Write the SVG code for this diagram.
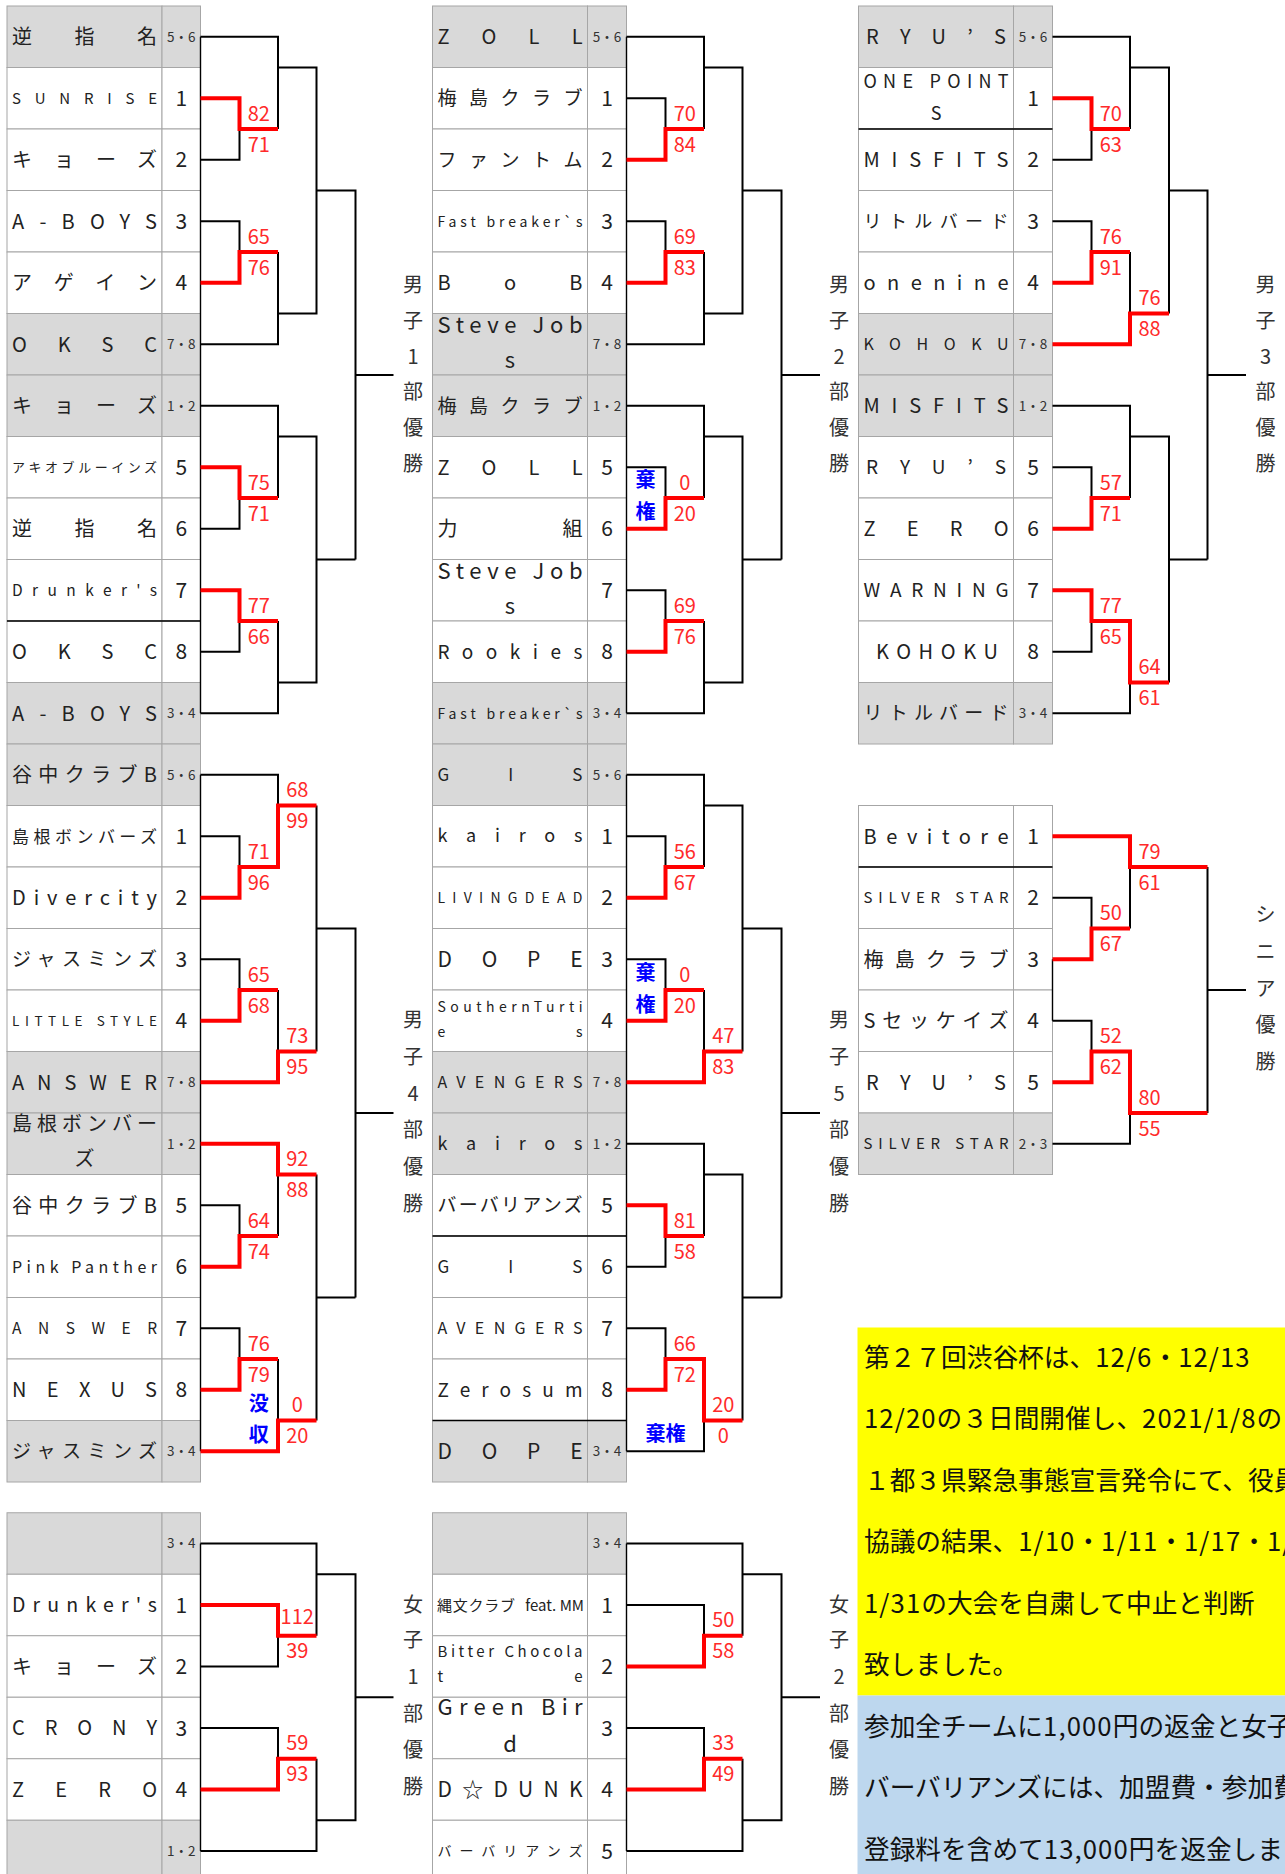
<svg xmlns="http://www.w3.org/2000/svg" width="1285" height="1874" viewBox="0 0 1285 1874">
<style>
text{font-family:"Noto Sans CJK JP","Noto Sans",sans-serif;fill:#222}
.nb{font-size:21px;text-anchor:middle}
.sd{font-size:13.5px;text-anchor:middle;fill:#333}
.sc{font-size:20px;fill:#ff2a2a;text-anchor:middle}
.bl{font-size:20px;fill:#0000ff;font-weight:bold;text-anchor:middle}
.lb{font-size:20px;fill:#333;text-anchor:middle}
.tx{font-size:25.7px;fill:#111}
.h{letter-spacing:1.1px}
.w{fill:#fff;stroke:#a6a6a6;stroke-width:1}
.g{fill:#d9d9d9;stroke:#a6a6a6;stroke-width:1}
.k{fill:none;stroke:#000;stroke-width:2}
.r{fill:none;stroke:#ff0000;stroke-width:4}
.kb{fill:none;stroke:#000;stroke-width:1.4}
.c{text-anchor:middle}
</style>
<rect width="1285" height="1874" fill="#fff"/>

<!-- ===== Column 1 ===== -->
<g id="men1">
<g id="c1r0"><rect class="g" x="7" y="6" width="155" height="61.5"/><rect class="g" x="162" y="6" width="38.5" height="61.5"/><text x="12" y="44.2" font-size="20" textLength="145" lengthAdjust="spacing">逆指名</text><text class="sd" x="181.25" y="41.55">5・6</text></g>
<g id="c1r1"><rect class="w" x="7" y="67.5" width="155" height="61.5"/><rect class="w" x="162" y="67.5" width="38.5" height="61.5"/><text x="12" y="103.8" font-size="15" textLength="145" lengthAdjust="spacing">SUNRISE</text><text class="nb" x="181.25" y="105.75">1</text></g>
<g id="c1r2"><rect class="w" x="7" y="129" width="155" height="61.5"/><rect class="w" x="162" y="129" width="38.5" height="61.5"/><text x="12" y="167.2" font-size="20" textLength="145" lengthAdjust="spacing">キョーズ</text><text class="nb" x="181.25" y="167.25">2</text></g>
<g id="c1r3"><rect class="w" x="7" y="190.5" width="155" height="61.5"/><rect class="w" x="162" y="190.5" width="38.5" height="61.5"/><text x="12" y="228.7" font-size="20" textLength="145" lengthAdjust="spacing">A-BOYS</text><text class="nb" x="181.25" y="228.75">3</text></g>
<g id="c1r4"><rect class="w" x="7" y="252" width="155" height="61.5"/><rect class="w" x="162" y="252" width="38.5" height="61.5"/><text x="12" y="290.2" font-size="20" textLength="145" lengthAdjust="spacing">アゲイン</text><text class="nb" x="181.25" y="290.25">4</text></g>
<g id="c1r5"><rect class="g" x="7" y="313.5" width="155" height="61.5"/><rect class="g" x="162" y="313.5" width="38.5" height="61.5"/><text x="12" y="351.7" font-size="20" textLength="145" lengthAdjust="spacing">OKSC</text><text class="sd" x="181.25" y="349.05">7・8</text></g>
<g id="c1r6"><rect class="g" x="7" y="375" width="155" height="61.5"/><rect class="g" x="162" y="375" width="38.5" height="61.5"/><text x="12" y="413.2" font-size="20" textLength="145" lengthAdjust="spacing">キョーズ</text><text class="sd" x="181.25" y="410.55">1・2</text></g>
<g id="c1r7"><rect class="w" x="7" y="436.5" width="155" height="61.5"/><rect class="w" x="162" y="436.5" width="38.5" height="61.5"/><text x="12" y="472" font-size="13" textLength="145" lengthAdjust="spacing">アキオブルーインズ</text><text class="nb" x="181.25" y="474.75">5</text></g>
<g id="c1r8"><rect class="w" x="7" y="498" width="155" height="61.5"/><rect class="w" x="162" y="498" width="38.5" height="61.5"/><text x="12" y="536.2" font-size="20" textLength="145" lengthAdjust="spacing">逆指名</text><text class="nb" x="181.25" y="536.25">6</text></g>
<g id="c1r9"><rect class="w" x="7" y="559.5" width="155" height="61.5"/><rect class="w" x="162" y="559.5" width="38.5" height="61.5"/><text x="12" y="596" font-size="15.5" textLength="145" lengthAdjust="spacing">Drunker's</text><text class="nb" x="181.25" y="597.75">7</text></g>
<g id="c1r10"><rect class="w" x="7" y="621" width="155" height="61.5"/><rect class="w" x="162" y="621" width="38.5" height="61.5"/><text x="12" y="659.2" font-size="20" textLength="145" lengthAdjust="spacing">OKSC</text><text class="nb" x="181.25" y="659.25">8</text></g>
<g id="c1r11"><rect class="g" x="7" y="682.5" width="155" height="61.5"/><rect class="g" x="162" y="682.5" width="38.5" height="61.5"/><text x="12" y="720.7" font-size="20" textLength="145" lengthAdjust="spacing">A-BOYS</text><text class="sd" x="181.25" y="718.05">3・4</text></g>
</g>

<g id="men4">
<g id="c1r12"><rect class="g" x="7" y="744" width="155" height="61.5"/><rect class="g" x="162" y="744" width="38.5" height="61.5"/><text x="12" y="782.2" font-size="20" textLength="145" lengthAdjust="spacing">谷中クラブB</text><text class="sd" x="181.25" y="779.55">5・6</text></g>
<g id="c1r13"><rect class="w" x="7" y="805.5" width="155" height="61.5"/><rect class="w" x="162" y="805.5" width="38.5" height="61.5"/><text x="12" y="842.5" font-size="17" textLength="145" lengthAdjust="spacing">島根ボンバーズ</text><text class="nb" x="181.25" y="843.75">1</text></g>
<g id="c1r14"><rect class="w" x="7" y="867" width="155" height="61.5"/><rect class="w" x="162" y="867" width="38.5" height="61.5"/><text x="12" y="905.2" font-size="20" textLength="145" lengthAdjust="spacing">Divercity</text><text class="nb" x="181.25" y="905.25">2</text></g>
<g id="c1r15"><rect class="w" x="7" y="928.5" width="155" height="61.5"/><rect class="w" x="162" y="928.5" width="38.5" height="61.5"/><text x="12" y="966.3" font-size="19" textLength="145" lengthAdjust="spacing">ジャスミンズ</text><text class="nb" x="181.25" y="966.75">3</text></g>
<g id="c1r16"><rect class="w" x="7" y="990" width="155" height="61.5"/><rect class="w" x="162" y="990" width="38.5" height="61.5"/><text x="12" y="1025.8" font-size="13.5" textLength="145" lengthAdjust="spacing">LITTLE STYLE</text><text class="nb" x="181.25" y="1028.25">4</text></g>
<g id="c1r17"><rect class="g" x="7" y="1051.5" width="155" height="61.5"/><rect class="g" x="162" y="1051.5" width="38.5" height="61.5"/><text x="12" y="1089.7" font-size="20" textLength="145" lengthAdjust="spacing">ANSWER</text><text class="sd" x="181.25" y="1087.05">7・8</text></g>
<g id="c1r18"><rect class="g" x="7" y="1113" width="155" height="61.5"/><rect class="g" x="162" y="1113" width="38.5" height="61.5"/><text x="12" y="1130.7" font-size="20" textLength="145" lengthAdjust="spacing">島根ボンバー</text><text class="c" x="84.5" y="1165.7" font-size="20">ズ</text><text class="sd" x="181.25" y="1148.55">1・2</text></g>
<g id="c1r19"><rect class="w" x="7" y="1174.5" width="155" height="61.5"/><rect class="w" x="162" y="1174.5" width="38.5" height="61.5"/><text x="12" y="1212.7" font-size="20" textLength="145" lengthAdjust="spacing">谷中クラブB</text><text class="nb" x="181.25" y="1212.75">5</text></g>
<g id="c1r20"><rect class="w" x="7" y="1236" width="155" height="61.5"/><rect class="w" x="162" y="1236" width="38.5" height="61.5"/><text x="12" y="1272.7" font-size="16" textLength="145" lengthAdjust="spacing">Pink Panther</text><text class="nb" x="181.25" y="1274.25">6</text></g>
<g id="c1r21"><rect class="w" x="7" y="1297.5" width="155" height="61.5"/><rect class="w" x="162" y="1297.5" width="38.5" height="61.5"/><text x="12" y="1334" font-size="15.5" textLength="145" lengthAdjust="spacing">ANSWER</text><text class="nb" x="181.25" y="1335.75">7</text></g>
<g id="c1r22"><rect class="w" x="7" y="1359" width="155" height="61.5"/><rect class="w" x="162" y="1359" width="38.5" height="61.5"/><text x="12" y="1397.2" font-size="20" textLength="145" lengthAdjust="spacing">NEXUS</text><text class="nb" x="181.25" y="1397.25">8</text></g>
<g id="c1r23"><rect class="g" x="7" y="1420.5" width="155" height="61.5"/><rect class="g" x="162" y="1420.5" width="38.5" height="61.5"/><text x="12" y="1458.3" font-size="19" textLength="145" lengthAdjust="spacing">ジャスミンズ</text><text class="sd" x="181.25" y="1456.05">3・4</text></g>
</g>

<g id="women1">
<g id="c1b0"><rect class="g" x="7" y="1512.75" width="155" height="61.5"/><rect class="g" x="162" y="1512.75" width="38.5" height="61.5"/><text class="sd" x="181.25" y="1548.3">3・4</text></g>
<g id="c1b1"><rect class="w" x="7" y="1574.25" width="155" height="61.5"/><rect class="w" x="162" y="1574.25" width="38.5" height="61.5"/><text x="12" y="1612" font-size="19.5" textLength="145" lengthAdjust="spacing">Drunker's</text><text class="nb" x="181.25" y="1612.5">1</text></g>
<g id="c1b2"><rect class="w" x="7" y="1635.75" width="155" height="61.5"/><rect class="w" x="162" y="1635.75" width="38.5" height="61.5"/><text x="12" y="1673.9" font-size="20" textLength="145" lengthAdjust="spacing">キョーズ</text><text class="nb" x="181.25" y="1674">2</text></g>
<g id="c1b3"><rect class="w" x="7" y="1697.25" width="155" height="61.5"/><rect class="w" x="162" y="1697.25" width="38.5" height="61.5"/><text x="12" y="1735.4" font-size="20" textLength="145" lengthAdjust="spacing">CRONY</text><text class="nb" x="181.25" y="1735.5">3</text></g>
<g id="c1b4"><rect class="w" x="7" y="1758.75" width="155" height="61.5"/><rect class="w" x="162" y="1758.75" width="38.5" height="61.5"/><text x="12" y="1796.9" font-size="20" textLength="145" lengthAdjust="spacing">ZERO</text><text class="nb" x="181.25" y="1797">4</text></g>
<g id="c1b5"><rect class="g" x="7" y="1820.25" width="155" height="61.5"/><rect class="g" x="162" y="1820.25" width="38.5" height="61.5"/><text class="sd" x="181.25" y="1855.8">1・2</text></g>
</g>

<!-- ===== Column 2 ===== -->
<g id="men2">
<g id="c2r0"><rect class="g" x="432.5" y="6" width="155" height="61.5"/><rect class="g" x="587.5" y="6" width="39" height="61.5"/><text x="437.5" y="44.2" font-size="20" textLength="145" lengthAdjust="spacing">ZOLL</text><text class="sd" x="607" y="41.55">5・6</text></g>
<g id="c2r1"><rect class="w" x="432.5" y="67.5" width="155" height="61.5"/><rect class="w" x="587.5" y="67.5" width="39" height="61.5"/><text x="437.5" y="105.3" font-size="19" textLength="145" lengthAdjust="spacing">梅島クラブ</text><text class="nb" x="607" y="105.75">1</text></g>
<g id="c2r2"><rect class="w" x="432.5" y="129" width="155" height="61.5"/><rect class="w" x="587.5" y="129" width="39" height="61.5"/><text x="437.5" y="166.8" font-size="19" textLength="145" lengthAdjust="spacing">ファントム</text><text class="nb" x="607" y="167.25">2</text></g>
<g id="c2r3"><rect class="w" x="432.5" y="190.5" width="155" height="61.5"/><rect class="w" x="587.5" y="190.5" width="39" height="61.5"/><text x="437.5" y="226.5" font-size="14" textLength="145" lengthAdjust="spacing">Fast breaker`s</text><text class="nb" x="607" y="228.75">3</text></g>
<g id="c2r4"><rect class="w" x="432.5" y="252" width="155" height="61.5"/><rect class="w" x="587.5" y="252" width="39" height="61.5"/><text x="437.5" y="290.2" font-size="20" textLength="145" lengthAdjust="spacing">BoB</text><text class="nb" x="607" y="290.25">4</text></g>
<g id="c2r5"><rect class="g" x="432.5" y="313.5" width="155" height="61.5"/><rect class="g" x="587.5" y="313.5" width="39" height="61.5"/><text x="437.5" y="332.7" font-size="22" textLength="145" lengthAdjust="spacing">Steve Job</text><text class="c" x="510" y="368.3" font-size="22">s</text><text class="sd" x="607" y="349.05">7・8</text></g>
<g id="c2r6"><rect class="g" x="432.5" y="375" width="155" height="61.5"/><rect class="g" x="587.5" y="375" width="39" height="61.5"/><text x="437.5" y="412.8" font-size="19" textLength="145" lengthAdjust="spacing">梅島クラブ</text><text class="sd" x="607" y="410.55">1・2</text></g>
<g id="c2r7"><rect class="w" x="432.5" y="436.5" width="155" height="61.5"/><rect class="w" x="587.5" y="436.5" width="39" height="61.5"/><text x="437.5" y="474.7" font-size="20" textLength="145" lengthAdjust="spacing">ZOLL</text><text class="nb" x="607" y="474.75">5</text></g>
<g id="c2r8"><rect class="w" x="432.5" y="498" width="155" height="61.5"/><rect class="w" x="587.5" y="498" width="39" height="61.5"/><text x="437.5" y="536.2" font-size="20" textLength="145" lengthAdjust="spacing">力組</text><text class="nb" x="607" y="536.25">6</text></g>
<g id="c2r9"><rect class="w" x="432.5" y="559.5" width="155" height="61.5"/><rect class="w" x="587.5" y="559.5" width="39" height="61.5"/><text x="437.5" y="578.7" font-size="22" textLength="145" lengthAdjust="spacing">Steve Job</text><text class="c" x="510" y="614.3" font-size="22">s</text><text class="nb" x="607" y="597.75">7</text></g>
<g id="c2r10"><rect class="w" x="432.5" y="621" width="155" height="61.5"/><rect class="w" x="587.5" y="621" width="39" height="61.5"/><text x="437.5" y="658.8" font-size="19" textLength="145" lengthAdjust="spacing">Rookies</text><text class="nb" x="607" y="659.25">8</text></g>
<g id="c2r11"><rect class="g" x="432.5" y="682.5" width="155" height="61.5"/><rect class="g" x="587.5" y="682.5" width="39" height="61.5"/><text x="437.5" y="718.5" font-size="14" textLength="145" lengthAdjust="spacing">Fast breaker`s</text><text class="sd" x="607" y="718.05">3・4</text></g>
</g>

<g id="men5">
<g id="c2r12"><rect class="g" x="432.5" y="744" width="155" height="61.5"/><rect class="g" x="587.5" y="744" width="39" height="61.5"/><text x="437.5" y="781" font-size="17" textLength="145" lengthAdjust="spacing">GIS</text><text class="sd" x="607" y="779.55">5・6</text></g>
<g id="c2r13"><rect class="w" x="432.5" y="805.5" width="155" height="61.5"/><rect class="w" x="587.5" y="805.5" width="39" height="61.5"/><text x="437.5" y="842.3" font-size="18" textLength="145" lengthAdjust="spacing">kairos</text><text class="nb" x="607" y="843.75">1</text></g>
<g id="c2r14"><rect class="w" x="432.5" y="867" width="155" height="61.5"/><rect class="w" x="587.5" y="867" width="39" height="61.5"/><text x="437.5" y="903" font-size="14" textLength="145" lengthAdjust="spacing">LIVINGDEAD</text><text class="nb" x="607" y="905.25">2</text></g>
<g id="c2r15"><rect class="w" x="432.5" y="928.5" width="155" height="61.5"/><rect class="w" x="587.5" y="928.5" width="39" height="61.5"/><text x="437.5" y="967" font-size="21" textLength="145" lengthAdjust="spacing">DOPE</text><text class="nb" x="607" y="966.75">3</text></g>
<g id="c2r16"><rect class="w" x="432.5" y="990" width="155" height="61.5"/><rect class="w" x="587.5" y="990" width="39" height="61.5"/><text x="437.5" y="1012.3" font-size="14" textLength="145" lengthAdjust="spacing">SouthernTurti</text><text x="437.5" y="1036.5" font-size="14" textLength="145" lengthAdjust="spacing">es</text><text class="nb" x="607" y="1028.25">4</text></g>
<g id="c2r17"><rect class="g" x="432.5" y="1051.5" width="155" height="61.5"/><rect class="g" x="587.5" y="1051.5" width="39" height="61.5"/><text x="437.5" y="1088.2" font-size="16" textLength="145" lengthAdjust="spacing">AVENGERS</text><text class="sd" x="607" y="1087.05">7・8</text></g>
<g id="c2r18"><rect class="g" x="432.5" y="1113" width="155" height="61.5"/><rect class="g" x="587.5" y="1113" width="39" height="61.5"/><text x="437.5" y="1149.8" font-size="18" textLength="145" lengthAdjust="spacing">kairos</text><text class="sd" x="607" y="1148.55">1・2</text></g>
<g id="c2r19"><rect class="w" x="432.5" y="1174.5" width="155" height="61.5"/><rect class="w" x="587.5" y="1174.5" width="39" height="61.5"/><text x="437.5" y="1212.3" font-size="19" textLength="145" lengthAdjust="spacing">バーバリアンズ</text><text class="nb" x="607" y="1212.75">5</text></g>
<g id="c2r20"><rect class="w" x="432.5" y="1236" width="155" height="61.5"/><rect class="w" x="587.5" y="1236" width="39" height="61.5"/><text x="437.5" y="1273" font-size="17" textLength="145" lengthAdjust="spacing">GIS</text><text class="nb" x="607" y="1274.25">6</text></g>
<g id="c2r21"><rect class="w" x="432.5" y="1297.5" width="155" height="61.5"/><rect class="w" x="587.5" y="1297.5" width="39" height="61.5"/><text x="437.5" y="1334.2" font-size="16" textLength="145" lengthAdjust="spacing">AVENGERS</text><text class="nb" x="607" y="1335.75">7</text></g>
<g id="c2r22"><rect class="w" x="432.5" y="1359" width="155" height="61.5"/><rect class="w" x="587.5" y="1359" width="39" height="61.5"/><text x="437.5" y="1396.8" font-size="19" textLength="145" lengthAdjust="spacing">Zerosum</text><text class="nb" x="607" y="1397.25">8</text></g>
<g id="c2r23"><rect class="g" x="432.5" y="1420.5" width="155" height="61.5"/><rect class="g" x="587.5" y="1420.5" width="39" height="61.5"/><text x="437.5" y="1459" font-size="21" textLength="145" lengthAdjust="spacing">DOPE</text><text class="sd" x="607" y="1456.05">3・4</text></g>
</g>

<g id="women2">
<g id="c2b0"><rect class="g" x="432.5" y="1512.75" width="155" height="61.5"/><rect class="g" x="587.5" y="1512.75" width="39" height="61.5"/><text class="sd" x="607" y="1548.3">3・4</text></g>
<g id="c2b1"><rect class="w" x="432.5" y="1574.25" width="155" height="61.5"/><rect class="w" x="587.5" y="1574.25" width="39" height="61.5"/><text x="437" y="1610.5" font-size="15" textLength="78" lengthAdjust="spacing">縄文クラブ</text><text x="584" y="1610.5" font-size="15" text-anchor="end">feat. MM</text><text class="nb" x="607" y="1612.5">1</text></g>
<g id="c2b2"><rect class="w" x="432.5" y="1635.75" width="155" height="61.5"/><rect class="w" x="587.5" y="1635.75" width="39" height="61.5"/><text x="437.5" y="1657.3" font-size="15" textLength="145" lengthAdjust="spacing">Bitter Chocola</text><text x="437.5" y="1681.7" font-size="15" textLength="145" lengthAdjust="spacing">te</text><text class="nb" x="607" y="1674">2</text></g>
<g id="c2b3"><rect class="w" x="432.5" y="1697.25" width="155" height="61.5"/><rect class="w" x="587.5" y="1697.25" width="39" height="61.5"/><text x="437.5" y="1715" font-size="22" textLength="145" lengthAdjust="spacing">Green Bir</text><text class="c" x="510" y="1751.7" font-size="22">d</text><text class="nb" x="607" y="1735.5">3</text></g>
<g id="c2b4"><rect class="w" x="432.5" y="1758.75" width="155" height="61.5"/><rect class="w" x="587.5" y="1758.75" width="39" height="61.5"/><text x="437.5" y="1797.3" font-size="21" textLength="145" lengthAdjust="spacing">D☆DUNK</text><text class="nb" x="607" y="1797">4</text></g>
<g id="c2b5"><rect class="w" x="432.5" y="1820.25" width="155" height="61.5"/><rect class="w" x="587.5" y="1820.25" width="39" height="61.5"/><text x="437.5" y="1856.2" font-size="14" textLength="145" lengthAdjust="spacing">バーバリアンズ</text><text class="nb" x="607" y="1858.5">5</text></g>
</g>

<!-- ===== Column 3 ===== -->
<g id="men3">
<g id="c3r0"><rect class="g" x="858.5" y="6" width="155" height="61.5"/><rect class="g" x="1013.5" y="6" width="39" height="61.5"/><text x="866" y="44.2" font-size="20" textLength="140" lengthAdjust="spacing">RYU’S</text><text class="sd" x="1033" y="41.55">5・6</text></g>
<g id="c3r1"><rect class="w" x="858.5" y="67.5" width="155" height="61.5"/><rect class="w" x="1013.5" y="67.5" width="39" height="61.5"/><text x="863.5" y="88.3" font-size="18" textLength="145" lengthAdjust="spacing">ONE POINT</text><text class="c" x="936" y="120" font-size="18">S</text><text class="nb" x="1033" y="105.75">1</text></g>
<g id="c3r2"><rect class="w" x="858.5" y="129" width="155" height="61.5"/><rect class="w" x="1013.5" y="129" width="39" height="61.5"/><text x="863.5" y="167.2" font-size="20" textLength="145" lengthAdjust="spacing">MISFITS</text><text class="nb" x="1033" y="167.25">2</text></g>
<g id="c3r3"><rect class="w" x="858.5" y="190.5" width="155" height="61.5"/><rect class="w" x="1013.5" y="190.5" width="39" height="61.5"/><text x="863.5" y="228" font-size="18" textLength="145" lengthAdjust="spacing">リトルバード</text><text class="nb" x="1033" y="228.75">3</text></g>
<g id="c3r4"><rect class="w" x="858.5" y="252" width="155" height="61.5"/><rect class="w" x="1013.5" y="252" width="39" height="61.5"/><text x="863.5" y="290.2" font-size="20" textLength="145" lengthAdjust="spacing">onenine</text><text class="nb" x="1033" y="290.25">4</text></g>
<g id="c3r5"><rect class="g" x="858.5" y="313.5" width="155" height="61.5"/><rect class="g" x="1013.5" y="313.5" width="39" height="61.5"/><text x="863.5" y="350.2" font-size="16" textLength="145" lengthAdjust="spacing">KOHOKU</text><text class="sd" x="1033" y="349.05">7・8</text></g>
<g id="c3r6"><rect class="g" x="858.5" y="375" width="155" height="61.5"/><rect class="g" x="1013.5" y="375" width="39" height="61.5"/><text x="863.5" y="413.2" font-size="20" textLength="145" lengthAdjust="spacing">MISFITS</text><text class="sd" x="1033" y="410.55">1・2</text></g>
<g id="c3r7"><rect class="w" x="858.5" y="436.5" width="155" height="61.5"/><rect class="w" x="1013.5" y="436.5" width="39" height="61.5"/><text x="866" y="474.3" font-size="19" textLength="140" lengthAdjust="spacing">RYU’S</text><text class="nb" x="1033" y="474.75">5</text></g>
<g id="c3r8"><rect class="w" x="858.5" y="498" width="155" height="61.5"/><rect class="w" x="1013.5" y="498" width="39" height="61.5"/><text x="863.5" y="536.2" font-size="20" textLength="145" lengthAdjust="spacing">ZERO</text><text class="nb" x="1033" y="536.25">6</text></g>
<g id="c3r9"><rect class="w" x="858.5" y="559.5" width="155" height="61.5"/><rect class="w" x="1013.5" y="559.5" width="39" height="61.5"/><text x="863.5" y="597.3" font-size="19" textLength="145" lengthAdjust="spacing">WARNING</text><text class="nb" x="1033" y="597.75">7</text></g>
<g id="c3r10"><rect class="w" x="858.5" y="621" width="155" height="61.5"/><rect class="w" x="1013.5" y="621" width="39" height="61.5"/><text x="876" y="659.2" font-size="20" textLength="122" lengthAdjust="spacing">KOHOKU</text><text class="nb" x="1033" y="659.25">8</text></g>
<g id="c3r11"><rect class="g" x="858.5" y="682.5" width="155" height="61.5"/><rect class="g" x="1013.5" y="682.5" width="39" height="61.5"/><text x="863.5" y="720.3" font-size="19" textLength="145" lengthAdjust="spacing">リトルバード</text><text class="sd" x="1033" y="718.05">3・4</text></g>
</g>

<g id="senior">
<g id="c3r13"><rect class="w" x="858.5" y="805.5" width="155" height="61.5"/><rect class="w" x="1013.5" y="805.5" width="39" height="61.5"/><text x="863.5" y="843.7" font-size="20" textLength="145" lengthAdjust="spacing">Bevitore</text><text class="nb" x="1033" y="843.75">1</text></g>
<g id="c3r14"><rect class="w" x="858.5" y="867" width="155" height="61.5"/><rect class="w" x="1013.5" y="867" width="39" height="61.5"/><text x="863.5" y="903.3" font-size="15" textLength="145" lengthAdjust="spacing">SILVER STAR</text><text class="nb" x="1033" y="905.25">2</text></g>
<g id="c3r15"><rect class="w" x="858.5" y="928.5" width="155" height="61.5"/><rect class="w" x="1013.5" y="928.5" width="39" height="61.5"/><text x="863.5" y="966.7" font-size="20" textLength="145" lengthAdjust="spacing">梅島クラブ</text><text class="nb" x="1033" y="966.75">3</text></g>
<g id="c3r16"><rect class="w" x="858.5" y="990" width="155" height="61.5"/><rect class="w" x="1013.5" y="990" width="39" height="61.5"/><text x="863.5" y="1028.2" font-size="20" textLength="145" lengthAdjust="spacing">Sセッケイズ</text><text class="nb" x="1033" y="1028.25">4</text></g>
<g id="c3r17"><rect class="w" x="858.5" y="1051.5" width="155" height="61.5"/><rect class="w" x="1013.5" y="1051.5" width="39" height="61.5"/><text x="866" y="1089.7" font-size="20" textLength="140" lengthAdjust="spacing">RYU’S</text><text class="nb" x="1033" y="1089.75">5</text></g>
<g id="c3r18"><rect class="g" x="858.5" y="1113" width="155" height="61.5"/><rect class="g" x="1013.5" y="1113" width="39" height="61.5"/><text x="863.5" y="1149.3" font-size="15" textLength="145" lengthAdjust="spacing">SILVER STAR</text><text class="sd" x="1033" y="1148.55">2・3</text></g>
</g>

<!-- black cell borders -->
<g id="borders">
<path class="kb" d="M200.5 36.75V713.25M200.5 774.75V1451.25M200.5 1543.5V1851M626.5 36.75V713.25M626.5 774.75V1451.25M626.5 1543.5V1851M1052.5 959.25V1020.75"/>
<path class="kb" d="M7 621H200.5M432.5 1236H626.5M432.5 1420.5H626.5M858.5 129H1052.5M858.5 867H1052.5"/>
</g>

<!-- ===== Connectors ===== -->
<g id="connectors">
<path class="k" d="M200.5 36.75H278V129M200.5 159.75H239.5V129M278 67.5H316.5V313.5H278M200.5 221.25H239.5V252M278 252V344.25H200.5M316.5 190.5H355.5V559.5M355.5 375H393.5M200.5 405.75H278V498M200.5 528.75H239.5V498M278 436.5H316.5V682.5H278M200.5 651.75H239.5V621M278 621V713.25H200.5M316.5 559.5H355.5"/>
<path class="k" d="M200.5 774.75H278V805.5M200.5 836.25H239.5V867M200.5 959.25H239.5V990M278 990V1051.5M316.5 805.5V1051.5M316.5 928.5H355.5V1297.5M355.5 1113H393.5M278 1174.5V1236M200.5 1205.25H239.5V1236M200.5 1328.25H239.5V1359M278 1359V1420.5M316.5 1174.5V1420.5M316.5 1297.5H355.5"/>
<path class="k" d="M200.5 1543.5H316.5V1635.75M200.5 1666.5H278V1635.75M316.5 1574.25H355.5V1820.25H316.5M200.5 1728H278V1758.75M316.5 1758.75V1851H200.5M355.5 1697.25H393.5"/>
<path class="k" d="M626.5 36.75H704V129M626.5 98.25H665.5V129M704 67.5H742.5V313.5H704M626.5 221.25H665.5V252M704 252V344.25H626.5M742.5 190.5H781.5V559.5M781.5 375H820M626.5 405.75H704V498M626.5 467.25H665.5V498M704 436.5H742.5V682.5H704M626.5 590.25H665.5V621M704 621V713.25H626.5M742.5 559.5H781.5"/>
<path class="k" d="M626.5 774.75H704V867M704 805.5H742.5V1051.5M626.5 836.25H665.5V867M626.5 959.25H665.5V990M704 990V1051.5M742.5 928.5H781.5V1297.5M781.5 1113H820M626.5 1143.75H704V1236M704 1174.5H742.5V1420.5M626.5 1266.75H665.5V1236M626.5 1328.25H665.5V1359M626.5 1451.25H704V1420.5M742.5 1297.5H781.5"/>
<path class="k" d="M626.5 1543.5H742.5V1635.75M626.5 1605H704V1635.75M742.5 1574.25H781.5V1820.25H742.5M626.5 1728H704V1758.75M742.5 1758.75V1851H626.5M781.5 1697.25H820"/>
<path class="k" d="M1052.5 36.75H1130V129M1052.5 159.75H1091.5V129M1130 67.5H1169V313.5M1052.5 221.25H1091.5V252M1130 252V313.5M1169 190.5H1207.5V559.5M1207.5 375H1246M1052.5 405.75H1130V498M1052.5 467.25H1091.5V498M1130 436.5H1169V682.5M1052.5 651.75H1091.5V621M1052.5 713.25H1130V682.5M1169 559.5H1207.5"/>
<path class="k" d="M1052.5 897.75H1091.5V928.5M1130 867V928.5M1052.5 1020.75H1091.5V1051.5M1052.5 1143.75H1130V1113M1207.5 867V1113M1207.5 990H1246"/>
<path class="r" d="M200.5 98.25H239.5V129H278M200.5 282.75H239.5V252H278M200.5 467.25H239.5V498H278M200.5 590.25H239.5V621H278"/>
<path class="r" d="M316.5 805.5H278V867H239.5V897.75H200.5M200.5 1020.75H239.5V990H278M200.5 1082.25H278V1051.5H316.5M200.5 1143.75H278V1174.5H316.5M200.5 1266.75H239.5V1236H278M200.5 1389.75H239.5V1359H278M200.5 1451.25H278V1420.5H316.5"/>
<path class="r" d="M200.5 1605H278V1635.75H316.5M200.5 1789.5H278V1758.75H316.5"/>
<path class="r" d="M626.5 159.75H665.5V129H704M626.5 282.75H665.5V252H704M626.5 528.75H665.5V498H704M626.5 651.75H665.5V621H704"/>
<path class="r" d="M626.5 897.75H665.5V867H704M626.5 1020.75H665.5V990H704M626.5 1082.25H704V1051.5H742.5M626.5 1205.25H665.5V1236H704M626.5 1389.75H665.5V1359H704V1420.5H742.5"/>
<path class="r" d="M626.5 1666.5H704V1635.75H742.5M626.5 1789.5H704V1758.75H742.5"/>
<path class="r" d="M1052.5 98.25H1091.5V129H1130M1052.5 282.75H1091.5V252H1130M1052.5 344.25H1130V313.5H1169M1052.5 528.75H1091.5V498H1130M1052.5 590.25H1091.5V621H1130V682.5H1169"/>
<path class="r" d="M1052.5 836.25H1130V867H1207.5M1052.5 959.25H1091.5V928.5H1130M1052.5 1082.25H1091.5V1051.5H1130V1113H1207.5"/>
</g>

<!-- scores -->
<g id="scores">
<text class="sc" x="258.75" y="120.7">82</text><text class="sc" x="258.75" y="151.5">71</text>
<text class="sc" x="258.75" y="243.7">65</text><text class="sc" x="258.75" y="274.5">76</text>
<text class="sc" x="258.75" y="489.7">75</text><text class="sc" x="258.75" y="520.5">71</text>
<text class="sc" x="258.75" y="612.7">77</text><text class="sc" x="258.75" y="643.5">66</text>
<text class="sc" x="297.25" y="797.2">68</text><text class="sc" x="297.25" y="828">99</text>
<text class="sc" x="258.75" y="858.7">71</text><text class="sc" x="258.75" y="889.5">96</text>
<text class="sc" x="258.75" y="981.7">65</text><text class="sc" x="258.75" y="1012.5">68</text>
<text class="sc" x="297.25" y="1043.2">73</text><text class="sc" x="297.25" y="1074">95</text>
<text class="sc" x="297.25" y="1166.2">92</text><text class="sc" x="297.25" y="1197">88</text>
<text class="sc" x="258.75" y="1227.7">64</text><text class="sc" x="258.75" y="1258.5">74</text>
<text class="sc" x="258.75" y="1350.7">76</text><text class="sc" x="258.75" y="1381.5">79</text>
<text class="sc" x="297.25" y="1412.2">0</text><text class="sc" x="297.25" y="1443">20</text>
<text class="bl" x="258.75" y="1411">没</text><text class="bl" x="258.75" y="1441.6">収</text>
<text class="sc" x="297.25" y="1624" font-size="15">112</text><text class="sc" x="297.25" y="1658.25">39</text>
<text class="sc" x="297.25" y="1750.45">59</text><text class="sc" x="297.25" y="1781.25">93</text>

<text class="sc" x="684.75" y="120.7">70</text><text class="sc" x="684.75" y="151.5">84</text>
<text class="sc" x="684.75" y="243.7">69</text><text class="sc" x="684.75" y="274.5">83</text>
<text class="sc" x="684.75" y="489.7">0</text><text class="sc" x="684.75" y="520.5">20</text>
<text class="bl" x="645.5" y="487">棄</text><text class="bl" x="645.5" y="519">権</text>
<text class="sc" x="684.75" y="612.7">69</text><text class="sc" x="684.75" y="643.5">76</text>
<text class="sc" x="684.75" y="858.7">56</text><text class="sc" x="684.75" y="889.5">67</text>
<text class="sc" x="684.75" y="981.7">0</text><text class="sc" x="684.75" y="1012.5">20</text>
<text class="bl" x="645.5" y="980">棄</text><text class="bl" x="645.5" y="1012">権</text>
<text class="sc" x="723.25" y="1043.2">47</text><text class="sc" x="723.25" y="1074">83</text>
<text class="sc" x="684.75" y="1227.7">81</text><text class="sc" x="684.75" y="1258.5">58</text>
<text class="sc" x="684.75" y="1350.7">66</text><text class="sc" x="684.75" y="1381.5">72</text>
<text class="sc" x="723.25" y="1412.2">20</text><text class="sc" x="723.25" y="1443">0</text>
<text class="bl" x="665.5" y="1441">棄権</text>
<text class="sc" x="723.25" y="1627.45">50</text><text class="sc" x="723.25" y="1658.25">58</text>
<text class="sc" x="723.25" y="1750.45">33</text><text class="sc" x="723.25" y="1781.25">49</text>

<text class="sc" x="1110.75" y="120.7">70</text><text class="sc" x="1110.75" y="151.5">63</text>
<text class="sc" x="1110.75" y="243.7">76</text><text class="sc" x="1110.75" y="274.5">91</text>
<text class="sc" x="1149.5" y="305.2">76</text><text class="sc" x="1149.5" y="336">88</text>
<text class="sc" x="1110.75" y="489.7">57</text><text class="sc" x="1110.75" y="520.5">71</text>
<text class="sc" x="1110.75" y="612.7">77</text><text class="sc" x="1110.75" y="643.5">65</text>
<text class="sc" x="1149.5" y="674.2">64</text><text class="sc" x="1149.5" y="705">61</text>
<text class="sc" x="1149.5" y="858.7">79</text><text class="sc" x="1149.5" y="889.5">61</text>
<text class="sc" x="1110.75" y="920.2">50</text><text class="sc" x="1110.75" y="951">67</text>
<text class="sc" x="1110.75" y="1043.2">52</text><text class="sc" x="1110.75" y="1074">62</text>
<text class="sc" x="1149.5" y="1104.7">80</text><text class="sc" x="1149.5" y="1135.5">55</text>
</g>

<!-- vertical labels -->
<g id="labels">
<text class="lb"><tspan x="413" y="291.7">男</tspan><tspan x="413" y="327.6">子</tspan><tspan x="413" y="363.5">1</tspan><tspan x="413" y="399.4">部</tspan><tspan x="413" y="435.3">優</tspan><tspan x="413" y="471.2">勝</tspan></text>
<text class="lb"><tspan x="839" y="291.7">男</tspan><tspan x="839" y="327.6">子</tspan><tspan x="839" y="363.5">2</tspan><tspan x="839" y="399.4">部</tspan><tspan x="839" y="435.3">優</tspan><tspan x="839" y="471.2">勝</tspan></text>
<text class="lb"><tspan x="1265.5" y="291.7">男</tspan><tspan x="1265.5" y="327.6">子</tspan><tspan x="1265.5" y="363.5">3</tspan><tspan x="1265.5" y="399.4">部</tspan><tspan x="1265.5" y="435.3">優</tspan><tspan x="1265.5" y="471.2">勝</tspan></text>
<text class="lb"><tspan x="413" y="1027.4">男</tspan><tspan x="413" y="1064.1">子</tspan><tspan x="413" y="1100.7">4</tspan><tspan x="413" y="1137.4">部</tspan><tspan x="413" y="1174.1">優</tspan><tspan x="413" y="1210.7">勝</tspan></text>
<text class="lb"><tspan x="839" y="1027.4">男</tspan><tspan x="839" y="1064.1">子</tspan><tspan x="839" y="1100.7">5</tspan><tspan x="839" y="1137.4">部</tspan><tspan x="839" y="1174.1">優</tspan><tspan x="839" y="1210.7">勝</tspan></text>
<text class="lb"><tspan x="1265.5" y="922.4">シ</tspan><tspan x="1265.5" y="959.1">ニ</tspan><tspan x="1265.5" y="995.7">ア</tspan><tspan x="1265.5" y="1032.4">優</tspan><tspan x="1265.5" y="1069.1">勝</tspan></text>
<text class="lb"><tspan x="413" y="1612.4">女</tspan><tspan x="413" y="1647.4">子</tspan><tspan x="413" y="1684.1">1</tspan><tspan x="413" y="1720.7">部</tspan><tspan x="413" y="1757.4">優</tspan><tspan x="413" y="1794.1">勝</tspan></text>
<text class="lb"><tspan x="839" y="1612.4">女</tspan><tspan x="839" y="1647.4">子</tspan><tspan x="839" y="1684.1">2</tspan><tspan x="839" y="1720.7">部</tspan><tspan x="839" y="1757.4">優</tspan><tspan x="839" y="1794.1">勝</tspan></text>
</g>

<!-- notice -->
<g id="notice">
<rect x="857.5" y="1327.5" width="428" height="368" fill="#ffff00"/>
<rect x="857.5" y="1695.5" width="428" height="179" fill="#bdd7ee"/>
<text class="tx" x="864" y="1366.5">第２７回渋谷杯は、<tspan class="h">12/6</tspan>・<tspan class="h">12/13</tspan></text>
<text class="tx" x="864" y="1428"><tspan class="h">12/20</tspan>の３日間開催し、<tspan class="h">2021/1/8</tspan>の</text>
<text class="tx" x="864" y="1489.5">１都３県緊急事態宣言発令にて、役員</text>
<text class="tx" x="864" y="1551">協議の結果、<tspan class="h">1/10</tspan>・<tspan class="h">1/11</tspan>・<tspan class="h">1/17</tspan>・<tspan class="h">1/24</tspan></text>
<text class="tx" x="864" y="1612.5"><tspan class="h">1/31</tspan>の大会を自粛して中止と判断</text>
<text class="tx" x="864" y="1674">致しました。</text>
<text class="tx" x="864" y="1735.5">参加全チームに<tspan class="h">1,000</tspan>円の返金と女子</text>
<text class="tx" x="864" y="1797">バーバリアンズには、加盟費・参加費</text>
<text class="tx" x="864" y="1858.5">登録料を含めて<tspan class="h">13,000</tspan>円を返金します</text>
</g>
</svg>
